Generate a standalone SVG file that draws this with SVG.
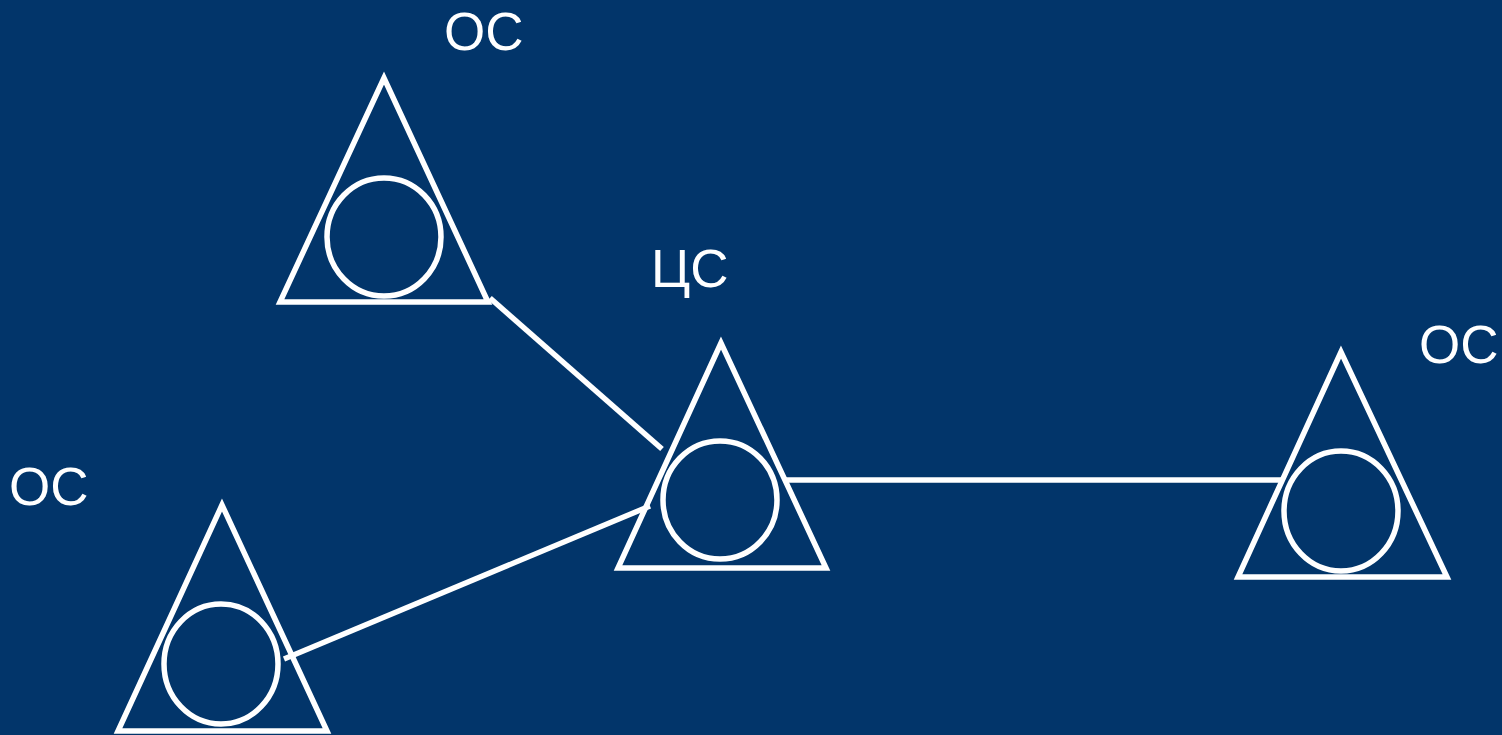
<svg xmlns="http://www.w3.org/2000/svg" width="1502" height="735" viewBox="0 0 1502 735">
<style>
.s{fill:none;stroke:#fff;stroke-width:5.5}
.t{fill:#fff;font-family:"Liberation Sans",Arial,sans-serif;font-size:53px}
</style>
<rect width="1502" height="735" fill="#02356A"/>
<g id="connectors" class="s">
<line x1="490" y1="298" x2="662" y2="449"/>
<line x1="785" y1="480" x2="1283" y2="480"/>
<line x1="284" y1="659" x2="650" y2="506"/>
</g>
<g id="node-top">
<polygon class="s" points="384,78 280,302 488,302"/>
<ellipse class="s" cx="384" cy="237" rx="57" ry="59"/>
<text class="t" x="444" y="50">ОС</text>
</g>
<g id="node-center">
<polygon class="s" points="721,343 618,568 826,568"/>
<ellipse class="s" cx="720" cy="500" rx="57" ry="59"/>
<text class="t" x="651" y="287">ЦС</text>
</g>
<g id="node-right">
<polygon class="s" points="1341,352 1238,577 1447,577"/>
<ellipse class="s" cx="1341" cy="511" rx="57" ry="60"/>
<text class="t" x="1419" y="363">ОС</text>
</g>
<g id="node-left">
<polygon class="s" points="222,505 118,731 327,731"/>
<ellipse class="s" cx="221" cy="664" rx="57" ry="60"/>
<text class="t" x="9" y="505">ОС</text>
</g>
</svg>
